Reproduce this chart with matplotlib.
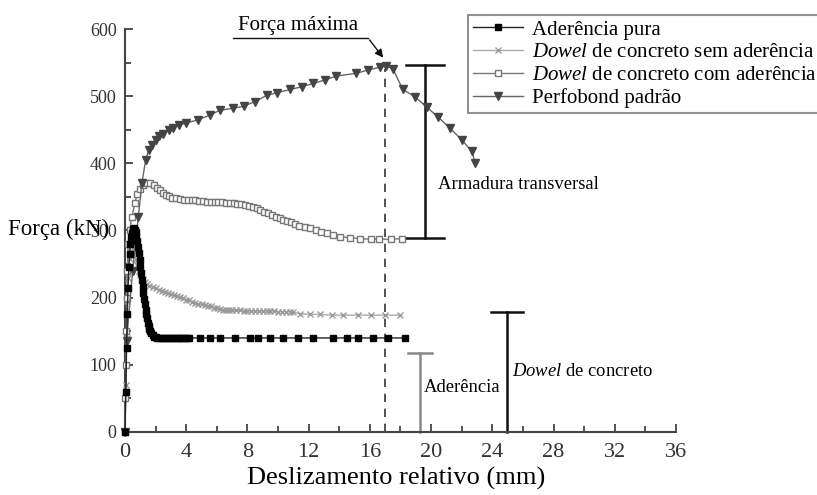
import numpy as np
from matplotlib import pyplot as plt

plt.rcParams["font.family"] = "Liberation Serif"
plt.rcParams["mathtext.fontset"] = "custom"
plt.rcParams["mathtext.rm"] = "Liberation Serif"
plt.rcParams["mathtext.it"] = "Liberation Serif:italic"

# Aderência pura
ap_x = [0.0, 0.05, 0.1, 0.15, 0.2, 0.25, 0.3, 0.35, 0.4, 0.45, 0.5, 0.55, 0.6, 0.65, 0.7,
        0.75, 0.8, 0.85, 0.9, 0.95, 1.0, 1.05, 1.1, 1.15, 1.2, 1.25, 1.3, 1.35, 1.4, 1.45,
        1.5, 1.55, 1.6, 1.65, 1.7, 1.8, 1.9, 2.0, 2.1, 2.25, 2.4, 2.55, 2.7, 2.85, 3.0,
        3.15, 3.3, 3.45, 3.6, 3.75, 3.9, 4.05, 4.2, 4.9, 5.55, 6.2, 7.18, 8.15, 8.7, 9.45,
        10.35, 11.3, 12.3, 13.6, 14.5, 15.25, 16.2, 17.2, 18.3]
ap_y = [0, 60, 125, 175, 215, 245, 265, 280, 290, 296, 300, 302, 303, 301, 298,
        292, 285, 276, 266, 256, 246, 236, 226, 216, 207, 198, 190, 182, 175, 169,
        163, 158, 154, 150, 147, 144, 142, 141, 140, 140, 140, 140, 140, 140, 140,
        140, 140, 140, 140, 140, 140, 140, 140, 140, 140, 140, 140, 140, 140, 140,
        140, 140, 140, 140, 140, 140, 140, 140, 140]

# Dowel de concreto sem aderência
ds_x = [0, 0.05, 0.1, 0.15, 0.2, 0.3, 0.4, 0.5, 0.6, 0.7, 0.8, 0.9, 1.0, 1.15, 1.3, 1.45,
        1.6, 1.8, 2.0, 2.2, 2.4, 2.6, 2.8, 3.0, 3.2, 3.4, 3.6, 3.8, 4.0, 4.2, 4.4, 4.6,
        4.8, 5.0, 5.2, 5.4, 5.6, 5.8, 6.0, 6.2, 6.4, 6.6, 6.8, 7.0, 7.25, 7.5, 7.75, 8.0,
        8.25, 8.5, 8.75, 9.0, 9.25, 9.5, 9.75, 10.0, 10.25, 10.5, 10.75, 11.0, 11.45,
        12.1, 12.75, 13.5, 14.25, 15.25, 16.1, 17.0, 17.95]
ds_y = [0, 70, 140, 195, 230, 258, 270, 272, 268, 258, 248, 240, 234, 228, 223, 220,
        218, 216, 214, 212, 210, 209, 207, 206, 204, 202, 201, 199, 197, 196, 194, 192,
        191, 190, 189, 188, 187, 185, 184, 183, 182, 182, 181, 181, 181, 181, 180, 180,
        180, 180, 180, 180, 180, 180, 180, 179, 179, 179, 179, 178, 176,
        175, 175, 174, 174, 174, 174, 174, 174]

# Dowel de concreto com aderência
dc_x = [0, 0.03, 0.06, 0.09, 0.12, 0.15, 0.2, 0.3, 0.45, 0.65, 0.8, 1.0, 1.2, 1.45, 1.65,
        1.9, 2.1, 2.3, 2.5, 2.7, 2.9, 3.1, 3.35, 3.6, 3.85, 4.1, 4.35, 4.6, 4.85, 5.1,
        5.35, 5.6, 5.85, 6.1, 6.35, 6.6, 6.85, 7.1, 7.35, 7.6, 7.85, 8.1, 8.35, 8.6, 8.85,
        9.1, 9.35, 9.6, 9.85, 10.1, 10.35, 10.6, 10.85, 11.1, 11.4, 11.75, 12.1, 12.45,
        12.8, 13.2, 13.6, 14.05, 14.7, 15.35, 16.05, 16.6, 17.35, 18.1]
dc_y = [0, 50, 100, 150, 200, 240, 280, 300, 320, 341, 355, 362, 368, 371, 371,
        368, 364, 360, 356, 353, 351, 349, 348, 347, 346, 346, 345, 345, 344, 344,
        343, 343, 342, 342, 342, 341, 341, 341, 340, 339, 338, 337, 335, 333, 330,
        328, 326, 323, 320, 318, 316, 314, 312, 310, 307, 305, 303, 300,
        298, 296, 294, 291, 289, 288, 287, 287, 287, 288]

# Perfobond padrão
pp_x = [0, 0.1, 0.5, 0.87, 1.1, 1.35, 1.55, 1.75, 2.0, 2.25, 2.5, 2.85, 3.15, 3.5, 4.0,
        4.8, 5.55, 6.2, 7.05, 7.75, 8.5, 9.25, 9.9, 10.8, 11.55, 12.3, 13.05, 13.8, 15.1,
        15.9, 16.65, 17.05, 17.5, 18.15, 18.95, 19.7, 20.45, 21.25, 22.0, 22.65, 22.9]
pp_y = [0, 135, 240, 320, 370, 405, 420, 428, 435, 440, 443, 450, 453, 457, 460,
        465, 472, 479, 482, 485, 492, 501, 505, 510, 514, 519, 524, 530, 534,
        539, 543, 545, 541, 510, 499, 484, 469, 452, 435, 418, 400]

# anotações: posição x da força máxima, faixas (x, y_base, y_topo)
f_max_x = 17.0
f_max_y = 540
armadura = (19.6, 289, 546)
aderencia = (19.27, 0, 117)
dowel = (24.97, 0, 179)

fig = plt.figure(figsize=(8.17, 4.95), dpi=100)
ax = fig.add_axes([0.153, 0.1273, 0.6744, 0.8141])

ax.plot(ap_x, ap_y, color="#222222", lw=1, marker="s", ms=4.5, mfc="black", mec="black",
        label="Aderência pura", clip_on=False, zorder=4)
ax.plot(ds_x, ds_y, color="#aaaaaa", lw=1, marker="x", ms=5, mew=1, mec="#999999",
        label=r"$\it{Dowel}$ de concreto sem aderência", clip_on=False, zorder=3)
ax.plot(dc_x, dc_y, color="#777777", lw=1, marker="s", ms=5, mfc="white", mec="#777777",
        label=r"$\it{Dowel}$ de concreto com aderência", clip_on=False, zorder=3)
ax.plot(pp_x, pp_y, color="#666666", lw=1, marker="v", ms=6, mfc="#444444", mec="#444444",
        label="Perfobond padrão", clip_on=False, zorder=3)

# linha tracejada da força máxima
ax.plot([f_max_x, f_max_x], [0, f_max_y], color="#333333", lw=1.2, ls=(0, (5, 4)))

# colchetes
def bracket(x, y0, y1, color, w=1.25, cap_bottom=True):
    ax.plot([x, x], [y0, y1], color=color, lw=1.8, clip_on=False)
    ax.plot([x - w, x + w], [y1, y1], color=color, lw=1.8, clip_on=False)
    if cap_bottom:
        ax.plot([x - w, x + w], [y0, y0], color=color, lw=1.8, clip_on=False)

bracket(*armadura, color="#111111")
bracket(*aderencia, color="#888888", w=0.8, cap_bottom=False)
bracket(*dowel, color="#111111", w=1.05, cap_bottom=False)

ax.text(20.45, 368, "Armadura transversal", fontsize=13.4, va="center", ha="left")
ax.text(19.5, 66, "Aderência", fontsize=13.4, va="center", ha="left")
ax.text(25.26, 90, r"$\it{Dowel}$ de concreto", fontsize=13.4, va="center", ha="left")

# Força máxima
ax.annotate("", xy=(16.98, 554), xytext=(15.87, 587),
            arrowprops=dict(arrowstyle="-|>", color="#111111", lw=1, mutation_scale=12),
            annotation_clip=False)
ax.plot([7.05, 15.87], [587, 587], color="#111111", lw=1, clip_on=False)
ax.text(11.3, 591, "Força máxima", fontsize=15, ha="center", va="bottom")

ax.set_xlim(0, 36)
ax.set_ylim(0, 600)
ax.set_xticks(np.arange(0, 37, 4))
ax.set_xticks(np.arange(2, 36, 4), minor=True)
ax.set_yticks(np.arange(0, 601, 100))
ax.set_yticks(np.arange(50, 600, 100), minor=True)
ax.spines["top"].set_visible(False)
ax.spines["right"].set_visible(False)
for s in ["left", "bottom"]:
    ax.spines[s].set_color("#444444")
    ax.spines[s].set_linewidth(1.5)
ax.tick_params(which="both", direction="in", color="#444444", width=1.3)
ax.tick_params(which="major", length=6)
ax.tick_params(which="minor", length=4)
ax.tick_params(axis="x", labelsize=16, pad=8, labelcolor="#333333")
ax.tick_params(axis="y", labelsize=13, pad=6, labelcolor="#333333")

fig.text(8 / 817, 1 - 229 / 495, "Força (kN)", fontsize=16.5, ha="left", va="center")
fig.text(396 / 817, 1 - 478 / 495, "Deslizamento relativo (mm)", fontsize=19,
         ha="center", va="center")

leg = ax.legend(loc="upper left", bbox_to_anchor=(468 / 817, 1 - 15 / 495),
                bbox_transform=fig.transFigure, fontsize=15, frameon=True, fancybox=False,
                labelspacing=0.15, handlelength=2.4, handletextpad=0.4, borderpad=0.25,
                borderaxespad=0)
leg.get_frame().set_edgecolor("#777777")
leg.get_frame().set_linewidth(1.5)

fig.savefig("out.png", dpi=100)
